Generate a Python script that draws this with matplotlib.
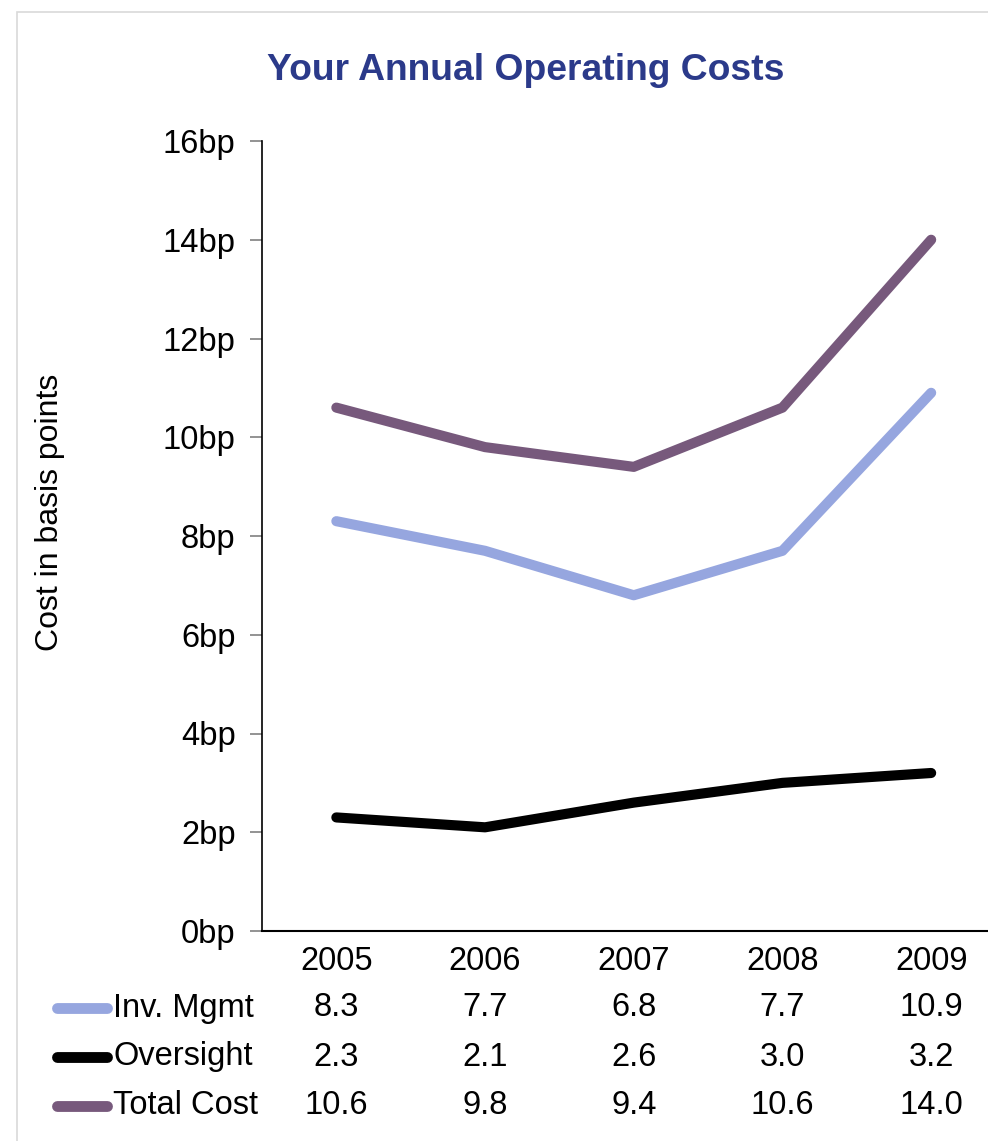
import matplotlib.pyplot as plt
import numpy as np
from matplotlib.lines import Line2D
from matplotlib.patches import Rectangle

plt.rcParams['font.family'] = ['Liberation Sans', 'DejaVu Sans']

years = ['2005', '2006', '2007', '2008', '2009']
inv_mgmt = [8.3, 7.7, 6.8, 7.7, 10.9]
oversight = [2.3, 2.1, 2.6, 3.0, 3.2]
total_cost = [10.6, 9.8, 9.4, 10.6, 14.0]
series_names = ['Inv. Mgmt', 'Oversight', 'Total Cost']
colors = ['#96a6df', '#000000', '#77597c']
yticks = [0, 2, 4, 6, 8, 10, 12, 14, 16]

W, H = 988, 1141
fig = plt.figure(figsize=(W / 100, H / 100), dpi=100)

# light frame around the chart area (runs off the right/bottom edge)
fig.patches.append(Rectangle((17 / W, -0.1), 1.2, 1 - 12 / H + 0.1,
                             transform=fig.transFigure, fill=False,
                             edgecolor='#d9d9d9', linewidth=1.2))

left, right = 262, 262 + 5 * 148.7
top, bottom = 141, 931
ax = fig.add_axes([left / W, 1 - bottom / H, (right - left) / W, (bottom - top) / H])

x = np.arange(len(years))
all_series = [inv_mgmt, oversight, total_cost]
for vals, c in zip(all_series, colors):
    ax.plot(x, vals, color=c, linewidth=7.3, solid_capstyle='round',
            solid_joinstyle='round')

ax.set_xlim(-0.5, 4.5)
ax.set_ylim(0, 16)
ax.set_yticks(yticks)
ax.set_yticklabels([f'{v}bp' for v in yticks], fontsize=23.5)
ax.set_xticks([])
ax.tick_params(axis='y', length=9, width=1.2, color='#808080', pad=10)
for s in ['top', 'right']:
    ax.spines[s].set_visible(False)
ax.spines['left'].set_linewidth(1.2)
ax.spines['bottom'].set_linewidth(1.5)

fig.text(526 / W, 1 - 71 / H, 'Your Annual Operating Costs', ha='center', va='center',
         fontsize=26.8, fontweight='bold', color='#2b3a8a')
fig.text(50 / W, 1 - 512 / H, 'Cost in basis points', rotation=90, ha='center',
         va='center', fontsize=23)

# data table under the axis
xs = [left + (i + 0.5) * 148.7 for i in range(len(years))]
for xi, yr in zip(xs, years):
    fig.text(xi / W, 1 - 961 / H, yr, ha='center', va='center', fontsize=23.5)

row_y = [1008, 1057, 1106]
for ry, name, vals, c in zip(row_y, series_names, all_series, colors):
    fig.add_artist(Line2D([57 / W, 107 / W], [1 - ry / H, 1 - ry / H], color=c,
                          linewidth=7.8, solid_capstyle='round',
                          transform=fig.transFigure))
    fig.text(113 / W, 1 - ry / H, name, ha='left', va='center', fontsize=23.5)
    for xi, v in zip(xs, vals):
        fig.text(xi / W, 1 - ry / H, f'{v:.1f}', ha='center', va='center', fontsize=23.5)

fig.savefig('out.png', dpi=100)
